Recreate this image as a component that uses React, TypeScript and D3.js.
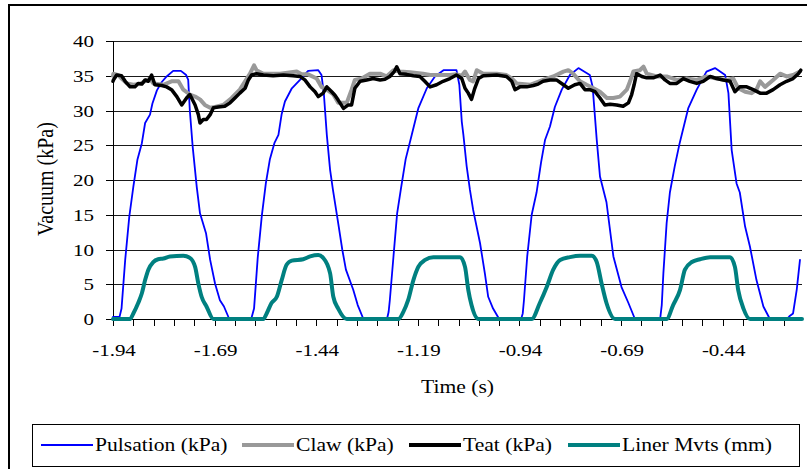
import React from "react";
import * as d3 from "d3";

type Pt = [number, number];

// [time (s), value]
const pulsation: Pt[] = [
  [-1.94, 0.3], [-1.924, 0.3], [-1.919, 1.5], [-1.91, 8.5], [-1.9, 14.7], [-1.89, 19], [-1.88, 22.9],
  [-1.869, 25.3], [-1.861, 28.2], [-1.849, 29.4], [-1.843, 31], [-1.832, 32.9], [-1.82, 34.1], [-1.808, 34.9],
  [-1.792, 35.7], [-1.773, 35.7], [-1.76, 35.1], [-1.755, 34.4], [-1.751, 30], [-1.744, 24.8], [-1.734, 19],
  [-1.726, 15.2], [-1.711, 12.3], [-1.701, 8.5], [-1.689, 5.1], [-1.677, 2.7], [-1.667, 1.8], [-1.654, 0],
  [-1.6, 0], [-1.593, 1.5], [-1.584, 8.8], [-1.574, 14.8], [-1.564, 19.5], [-1.554, 23], [-1.543, 25.3],
  [-1.533, 26.5], [-1.525, 29.5], [-1.517, 31.3], [-1.5, 33.2], [-1.48, 34.4], [-1.46, 35.7], [-1.435, 35.8],
  [-1.427, 35.1], [-1.421, 32.2], [-1.414, 26.5], [-1.406, 21.5], [-1.399, 18.6], [-1.386, 13.8], [-1.376, 10],
  [-1.367, 7.1], [-1.349, 4.2], [-1.338, 2], [-1.324, 0],
  [-1.266, 0], [-1.262, 1], [-1.259, 2.7], [-1.25, 9], [-1.241, 15.2], [-1.232, 18.6], [-1.22, 23],
  [-1.205, 26.5], [-1.189, 30.3], [-1.168, 33.2], [-1.148, 34.9], [-1.127, 35.8], [-1.095, 35.8], [-1.088, 33.7],
  [-1.082, 28.4], [-1.078, 26.5], [-1.07, 22], [-1.062, 18.6], [-1.054, 15.7], [-1.037, 10.9], [-1.025, 6.5],
  [-1.017, 3.2], [-1.005, 1.5], [-0.99, 0],
  [-0.936, 0], [-0.932, 0.8], [-0.929, 2.7], [-0.921, 9], [-0.91, 15], [-0.898, 18.2], [-0.887, 22.5],
  [-0.877, 25.8], [-0.865, 27.7], [-0.853, 30.5], [-0.836, 33], [-0.816, 35.1], [-0.795, 36.1], [-0.767, 35.1],
  [-0.76, 33.4], [-0.75, 25.8], [-0.742, 20.5], [-0.726, 16.8], [-0.709, 9], [-0.689, 4.6], [-0.672, 2.3],
  [-0.656, 0],
  [-0.594, 0], [-0.59, 2], [-0.586, 6.6], [-0.578, 13.8], [-0.57, 18.2], [-0.558, 22], [-0.546, 25.3],
  [-0.525, 30.3], [-0.504, 33], [-0.48, 35.6], [-0.459, 36.1], [-0.434, 35.1], [-0.426, 32.5], [-0.418, 24.3],
  [-0.406, 19.5], [-0.398, 18.2], [-0.385, 13.3], [-0.373, 10.4], [-0.357, 5.6], [-0.34, 1.8], [-0.324, 0],
  [-0.282, 0], [-0.276, 0.4], [-0.267, 0.8], [-0.258, 4.2], [-0.25, 8.5],
];

const claw: Pt[] = [
  [-1.94, 35.0], [-1.939, 35.3], [-1.927, 35.1], [-1.919, 34.6], [-1.906, 33.9], [-1.89, 33.7], [-1.874, 33.8],
  [-1.849, 34.6], [-1.841, 33.9], [-1.816, 33.7], [-1.796, 34.2], [-1.779, 34.2], [-1.767, 33.0], [-1.751, 32.3],
  [-1.738, 32.0], [-1.726, 31.6], [-1.714, 30.8], [-1.701, 30.4], [-1.689, 30.5], [-1.669, 30.8], [-1.648, 31.8],
  [-1.628, 33.0], [-1.615, 34.2], [-1.603, 35.3], [-1.593, 36.5], [-1.587, 35.8], [-1.57, 35.3], [-1.529, 35.3],
  [-1.488, 35.6], [-1.476, 35.2], [-1.46, 35.2], [-1.439, 34.6], [-1.427, 33.4], [-1.414, 33.0], [-1.398, 32.3],
  [-1.386, 31.1], [-1.377, 31.1], [-1.365, 31.1], [-1.353, 33.0], [-1.345, 34.4], [-1.328, 34.6], [-1.308, 35.3],
  [-1.283, 35.3], [-1.267, 34.9], [-1.25, 35.8], [-1.234, 35.6], [-1.209, 35.5], [-1.177, 35.3], [-1.16, 35.1],
  [-1.136, 35.1], [-1.111, 35.1], [-1.095, 35.2], [-1.082, 35.0], [-1.074, 35.6], [-1.062, 34.4], [-1.054, 34.2],
  [-1.045, 35.8], [-1.029, 35.3], [-0.996, 35.3], [-0.972, 35.1], [-0.959, 34.6], [-0.947, 33.9], [-0.914, 33.7],
  [-0.882, 34.4], [-0.857, 34.9], [-0.832, 35.6], [-0.82, 35.8], [-0.808, 35.3], [-0.791, 34.2], [-0.775, 33.7],
  [-0.758, 33.2], [-0.742, 32.7], [-0.725, 31.8], [-0.709, 31.8], [-0.693, 32.0], [-0.676, 33.0], [-0.668, 34.2],
  [-0.66, 35.6], [-0.644, 35.8], [-0.635, 36.3], [-0.627, 35.3], [-0.602, 34.9], [-0.578, 34.9], [-0.553, 34.4],
  [-0.529, 34.6], [-0.504, 34.4], [-0.48, 34.9], [-0.455, 34.6], [-0.43, 34.4], [-0.414, 34.6], [-0.402, 33.2],
  [-0.385, 32.7], [-0.369, 32.5], [-0.357, 33.0], [-0.348, 34.2], [-0.336, 33.4], [-0.316, 34.4], [-0.299, 35.3],
  [-0.283, 34.9], [-0.267, 35.1], [-0.25, 35.6],
];

const teat: Pt[] = [
  [-1.94, 34.2], [-1.939, 34.4], [-1.931, 35.1], [-1.919, 35.0], [-1.91, 34.2], [-1.898, 33.4], [-1.886, 33.4],
  [-1.878, 33.9], [-1.869, 33.8], [-1.861, 34.4], [-1.853, 34.2], [-1.845, 35.1], [-1.837, 33.7], [-1.82, 33.6],
  [-1.808, 33.4], [-1.796, 33.0], [-1.783, 32.0], [-1.771, 30.8], [-1.759, 31.8], [-1.751, 32.3], [-1.738, 30.8],
  [-1.73, 29.4], [-1.726, 28.2], [-1.718, 28.7], [-1.71, 28.7], [-1.701, 29.4], [-1.693, 30.4], [-1.681, 30.5],
  [-1.665, 30.6], [-1.652, 31.1], [-1.64, 31.8], [-1.628, 32.5], [-1.615, 33.2], [-1.607, 34.4], [-1.599, 35.1],
  [-1.587, 35.3], [-1.57, 35.1], [-1.546, 35.0], [-1.521, 35.1], [-1.497, 35.0], [-1.48, 34.9], [-1.468, 34.4],
  [-1.455, 33.4], [-1.443, 32.7], [-1.435, 32.0], [-1.423, 32.5], [-1.414, 33.4], [-1.402, 32.7], [-1.394, 32.2],
  [-1.386, 31.5], [-1.373, 30.3], [-1.361, 30.8], [-1.353, 30.8], [-1.345, 33.2], [-1.332, 34.2], [-1.316, 34.4],
  [-1.3, 34.6], [-1.283, 34.4], [-1.271, 34.5], [-1.259, 34.9], [-1.248, 35.6], [-1.242, 36.3], [-1.234, 35.3],
  [-1.218, 35.2], [-1.201, 35.0], [-1.185, 34.9], [-1.173, 34.2], [-1.16, 33.4], [-1.144, 33.7], [-1.128, 34.2],
  [-1.111, 34.6], [-1.095, 35.1], [-1.082, 34.6], [-1.074, 33.2], [-1.066, 32.5], [-1.058, 31.6], [-1.05, 33.2],
  [-1.041, 34.6], [-1.029, 35.0], [-0.996, 35.1], [-0.972, 34.9], [-0.959, 34.2], [-0.951, 33.0], [-0.939, 33.4],
  [-0.922, 33.4], [-0.906, 33.6], [-0.894, 33.8], [-0.882, 34.2], [-0.865, 34.4], [-0.849, 34.4], [-0.832, 33.7],
  [-0.82, 33.2], [-0.804, 33.7], [-0.791, 33.9], [-0.779, 33.0], [-0.767, 33.0], [-0.754, 32.7], [-0.742, 31.8],
  [-0.73, 30.8], [-0.717, 30.9], [-0.701, 30.8], [-0.685, 30.6], [-0.672, 31.1], [-0.664, 32.3], [-0.658, 33.7],
  [-0.652, 35.3], [-0.639, 34.9], [-0.627, 34.7], [-0.611, 34.7], [-0.594, 35.1], [-0.582, 34.4], [-0.57, 33.9],
  [-0.553, 33.9], [-0.537, 34.6], [-0.521, 34.2], [-0.504, 33.9], [-0.488, 34.2], [-0.471, 34.9], [-0.455, 34.6],
  [-0.439, 34.4], [-0.422, 34.2], [-0.41, 32.7], [-0.398, 33.4], [-0.381, 33.4], [-0.365, 33.0], [-0.348, 32.5],
  [-0.332, 32.5], [-0.316, 33.0], [-0.299, 33.7], [-0.283, 34.2], [-0.267, 34.6], [-0.254, 35.3], [-0.248, 35.8],
];

const linerMvts: Pt[] = [
  [-1.94, 0], [-1.898, 0], [-1.89, 0.8], [-1.878, 2.3], [-1.869, 3.7], [-1.861, 5.6], [-1.853, 7.1],
  [-1.841, 8.2], [-1.829, 8.6], [-1.816, 8.7], [-1.8, 9.0], [-1.767, 9.1], [-1.751, 8.8], [-1.738, 7.5],
  [-1.73, 5.1], [-1.722, 3.2], [-1.71, 1.8], [-1.693, 0],
  [-1.57, 0], [-1.562, 0.8], [-1.55, 2.3], [-1.537, 3.2], [-1.525, 5.6], [-1.513, 7.8], [-1.5, 8.4],
  [-1.472, 8.6], [-1.455, 9.0], [-1.435, 9.2], [-1.423, 8.8], [-1.406, 6.6], [-1.398, 3.2], [-1.386, 1.5],
  [-1.365, 0],
  [-1.238, 0], [-1.226, 1.0], [-1.214, 2.7], [-1.201, 5.6], [-1.189, 7.5], [-1.172, 8.5], [-1.152, 8.9],
  [-1.086, 8.9], [-1.074, 7.5], [-1.066, 4.2], [-1.058, 2.0], [-1.041, 0],
  [-0.91, 0], [-0.89, 2.3], [-0.873, 4.6], [-0.857, 7.1], [-0.84, 8.5], [-0.816, 8.9], [-0.791, 9.1],
  [-0.762, 9.1], [-0.75, 8.2], [-0.738, 5.1], [-0.726, 2.3], [-0.705, 0],
  [-0.578, 0], [-0.562, 2.0], [-0.545, 4.2], [-0.533, 7.1], [-0.516, 8.2], [-0.496, 8.6], [-0.471, 8.9],
  [-0.422, 8.9], [-0.41, 7.5], [-0.402, 4.2], [-0.389, 1.5], [-0.373, 0], [-0.245, 0],
];

const yTicks = [0, 5, 10, 15, 20, 25, 30, 35, 40];
const xTickLabels = ["-1.94", "-1.69", "-1.44", "-1.19", "-0.94", "-0.69", "-0.44"];
const timeStart = -1.94;
const timeEnd = -0.245;
const tickStep = 0.05;

const series = [
  { name: "Pulsation (kPa)", data: pulsation, color: "#0000FF", width: 1.8, smooth: false },
  { name: "Claw (kPa)", data: claw, color: "#999999", width: 4, smooth: false },
  { name: "Teat (kPa)", data: teat, color: "#000000", width: 3.5, smooth: false },
  { name: "Liner Mvts (mm)", data: linerMvts, color: "#008080", width: 4, smooth: true },
];

const FONT = "'Liberation Serif', 'Times New Roman', serif";
const SX = 1.2; // horizontal stretch of the original text

export default function App() {
  const W = 807, H = 469;
  const left = 113, right = 802, top = 41, bottom = 319;

  const x = d3.scaleLinear().domain([timeStart, timeEnd]).range([left, right]);
  const y = d3.scaleLinear().domain([0, 40]).range([bottom, top]);

  const nTicks = Math.floor((timeEnd - timeStart) / tickStep + 1e-6);
  const xTicks = d3.range(0, nTicks + 1).map((i) => timeStart + i * tickStep);

  const mkLine = (smooth: boolean) =>
    d3.line<Pt>()
      .x((d) => x(d[0]))
      .y((d) => y(d[1]))
      .curve(smooth ? d3.curveMonotoneX : d3.curveLinear);

  const crisp = (v: number) => Math.round(v) + 0.5;

  const legendX = [41, 242, 409, 568];
  const legendY = 445;

  return (
    <svg width={W} height={H} style={{ position: "absolute", left: 0, top: 0, background: "#fff" }}
      fontFamily={FONT}>
      <rect x={0} y={0} width={W} height={H} fill="#fff" />
      {/* chart border */}
      <rect x={9} y={5} width={W + 40} height={H + 40} fill="none" stroke="#000" strokeWidth={2} />

      {/* gridlines */}
      {yTicks.map((t) => (
        <line key={"g" + t} x1={left} x2={right} y1={crisp(y(t))} y2={crisp(y(t))} stroke="#1a1a1a" strokeWidth={1} />
      ))}

      {/* y axis */}
      <line x1={crisp(left)} x2={crisp(left)} y1={top} y2={bottom} stroke="#000" />
      {yTicks.map((t) => (
        <g key={"yt" + t}>
          <line x1={left - 7} x2={left} y1={crisp(y(t))} y2={crisp(y(t))} stroke="#000" />
          <text transform={`translate(94,${y(t) + 6}) scale(${SX},1)`} textAnchor="end" fontSize={17.5}>
            {t}
          </text>
        </g>
      ))}

      {/* x axis */}
      <line x1={left} x2={right} y1={crisp(bottom)} y2={crisp(bottom)} stroke="#000" />
      {xTicks.map((t, i) => (
        <line key={"xt" + i} x1={crisp(x(t))} x2={crisp(x(t))} y1={bottom} y2={bottom + 7} stroke="#000" />
      ))}
      {xTickLabels.map((lab, i) => (
        <text key={"xl" + i} transform={`translate(${x(timeStart + i * 5 * tickStep) + 1},356) scale(${SX},1)`}
          textAnchor="middle" fontSize={17.5}>
          {lab}
        </text>
      ))}

      {/* axis titles */}
      <text transform={`translate(${(left + right) / 2},393) scale(${SX},1)`} textAnchor="middle" fontSize={18}>
        Time (s)
      </text>
      <text transform={`translate(53,179) rotate(-90) scale(1,1.13)`} textAnchor="middle" fontSize={20}>
        Vacuum (kPa)
      </text>

      {/* series */}
      {series.map((s) => (
        <path key={s.name} d={mkLine(s.smooth)(s.data) || ""} fill="none" stroke={s.color}
          strokeWidth={s.width} strokeLinejoin="round" strokeLinecap="round" />
      ))}

      {/* legend */}
      <rect x={32.5} y={424.5} width={767} height={42} fill="#fff" stroke="#000" strokeWidth={1} />
      {series.map((s, i) => (
        <g key={"lg" + i}>
          <line x1={legendX[i]} x2={legendX[i] + 52} y1={legendY} y2={legendY} stroke={s.color}
            strokeWidth={s.width < 2 ? 2 : 4} />
          <text transform={`translate(${legendX[i] + 54},451) scale(${SX},1)`} fontSize={18}>
            {s.name}
          </text>
        </g>
      ))}
    </svg>
  );
}
